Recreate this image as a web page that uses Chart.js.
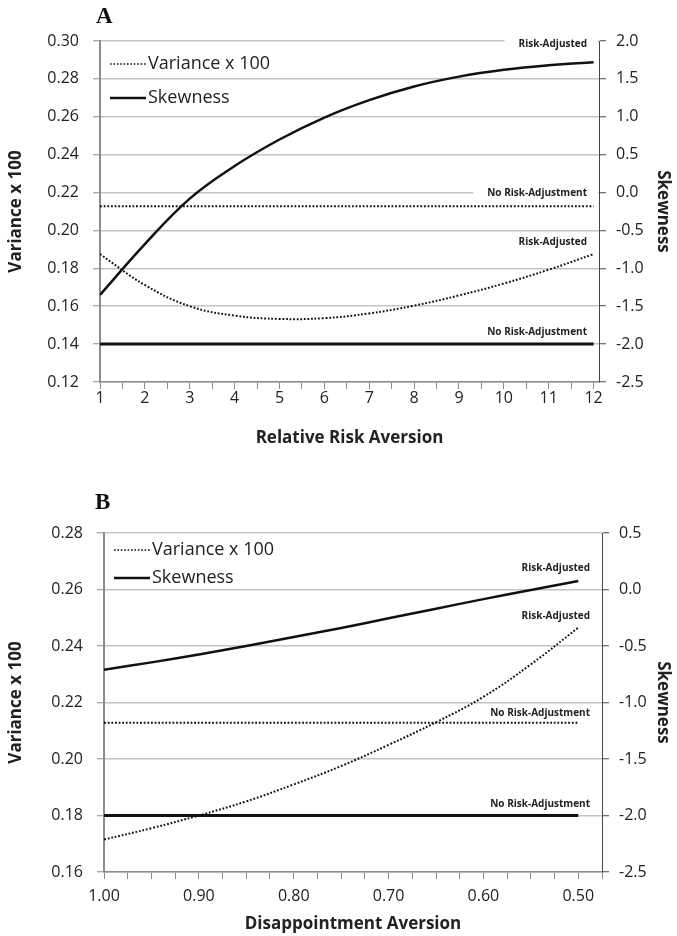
<!DOCTYPE html>
<html>
<head>
<meta charset="utf-8">
<script src="https://cdn.jsdelivr.net/npm/chart.js@4.4.0/dist/chart.umd.min.js"></script>
<style>
  html, body { margin: 0; padding: 0; background: #fff; }
  body { width: 677px; height: 936px; position: relative; overflow: hidden; }
  .panel { position: absolute; left: 0; width: 677px; }
  #boxA { top: 0; height: 460px; }
  #boxB { top: 460px; height: 476px; }
  .tag { position: absolute; font: bold 23px 'Liberation Serif', 'DejaVu Serif', serif; color: #111; }
</style>
</head>
<body>
<div class="panel" id="boxA"><canvas id="chartA"></canvas></div>
<div class="panel" id="boxB"><canvas id="chartB"></canvas></div>
<div class="tag" style="left:96px; top:3px;">A</div>
<div class="tag" style="left:95px; top:489px;">B</div>
<script>
// panel A - relative risk aversion
const rra = [1, 2, 3, 4, 5, 6, 7, 8, 9, 10, 11, 12];
const varianceA = [0.1875, 0.1712, 0.1600, 0.1550, 0.1533, 0.1537, 0.1562, 0.1603, 0.1657, 0.1720, 0.1793, 0.1875];
const skewnessA = [-1.35, -0.68, -0.08, 0.35, 0.70, 0.99, 1.22, 1.40, 1.53, 1.62, 1.68, 1.72];
const noAdjVarianceA = [0.2128, 0.2128];
const noAdjSkewnessA = [-2.0, -2.0];
const varTicksA = [0.12, 0.14, 0.16, 0.18, 0.20, 0.22, 0.24, 0.26, 0.28, 0.30];
const skewTicksA = [-2.5, -2.0, -1.5, -1.0, -0.5, 0.0, 0.5, 1.0, 1.5, 2.0];

// panel B - disappointment aversion
const da = [1.00, 0.95, 0.90, 0.85, 0.80, 0.75, 0.70, 0.65, 0.60, 0.55, 0.50];
const varianceB = [0.1715, 0.1755, 0.1800, 0.1850, 0.1910, 0.1975, 0.2050, 0.2130, 0.2220, 0.2335, 0.2465];
const skewnessB = [-0.71, -0.645, -0.575, -0.50, -0.42, -0.34, -0.255, -0.17, -0.085, -0.005, 0.075];
const noAdjVarianceB = [0.2128, 0.2128];
const noAdjSkewnessB = [-2.0, -2.0];
const varTicksB = [0.16, 0.18, 0.20, 0.22, 0.24, 0.26, 0.28];
const skewTicksB = [-2.5, -2.0, -1.5, -1.0, -0.5, 0.0, 0.5];
const daTicks = [1.00, 0.90, 0.80, 0.70, 0.60, 0.50];

const seriesNames = ['Variance x 100', 'Skewness'];
const noteText = ['Risk-Adjusted', 'No Risk-Adjustment'];

Chart.defaults.font.family = "'Open Sans', sans-serif";
Chart.defaults.color = '#222';

const GRID = '#c4c4c4';
const AXIS = '#8c8c8c';

function pts(xs, ys) {
  return ys.map((y, i) => ({ x: xs[i], y: y }));
}

// legend drawn inside the plot, top left
const legendBox = {
  id: 'legendBox',
  afterDatasetsDraw(chart, args, opts) {
    const ctx = chart.ctx, a = chart.chartArea;
    ctx.save();
    ctx.font = "18px 'Open Sans', sans-serif";
    ctx.textBaseline = 'middle';
    ctx.fillStyle = '#222';
    opts.rows.forEach((r, i) => {
      const y = a.top + opts.first + i * opts.gap;
      ctx.strokeStyle = '#111';
      ctx.lineWidth = r.dotted ? 1.6 : 2.5;
      ctx.setLineDash(r.dotted ? [1.6, 1.8] : []);
      ctx.beginPath();
      ctx.moveTo(a.left + 10, y);
      ctx.lineTo(a.left + 46, y);
      ctx.stroke();
      ctx.fillText(r.text, a.left + 48, y);
    });
    ctx.restore();
  }
};

// small labels at the right end of each line
const endNotes = {
  id: 'endNotes',
  beforeDatasetsDraw(chart, args, opts) {
    const ctx = chart.ctx, a = chart.chartArea;
    ctx.save();
    ctx.font = "bold 10px 'Open Sans', sans-serif";
    ctx.textAlign = 'right';
    ctx.textBaseline = 'middle';
    opts.items.forEach(n => {
      const ds = chart.data.datasets[n.dataset];
      const last = ds.data[ds.data.length - 1];
      const y = chart.scales[ds.yAxisID].getPixelForValue(last.y) - n.lift;
      const xr = a.right - 12;
      const w = ctx.measureText(n.text).width;
      ctx.fillStyle = '#fff';
      ctx.fillRect(xr - w - 14, y - 6, w + 25, 12);
      ctx.fillStyle = '#222';
      ctx.fillText(n.text, xr, y);
    });
    ctx.restore();
  }
};

function yAxis(pos, ticks, digits, title, width, pad, titlePad, showGrid) {
  return {
    type: 'linear',
    position: pos,
    min: ticks[0],
    max: ticks[ticks.length - 1],
    afterBuildTicks: s => { s.ticks = ticks.map(v => ({ value: v })); },
    afterFit: s => { s.width = width; },
    ticks: {
      font: { size: 16 },
      padding: pad,
      callback: v => Number(v).toFixed(digits)
    },
    grid: {
      drawOnChartArea: showGrid,
      color: GRID,
      lineWidth: 1.5,
      tickLength: 7,
      tickColor: pos === 'left' ? AXIS : '#444',
      tickWidth: 1
    },
    border: { display: true, color: pos === 'left' ? AXIS : '#444', width: pos === 'left' ? 2 : 1 },
    title: {
      display: true,
      text: title,
      font: { size: 17, weight: 'bold' },
      padding: { top: titlePad, bottom: 0 }
    }
  };
}

function xAxis(min, max, reverse, allTicks, labelled, digits, title, height, pad, titleBottom) {
  return {
    type: 'linear',
    position: 'bottom',
    min: min,
    max: max,
    reverse: reverse,
    afterBuildTicks: s => { s.ticks = allTicks.map(v => ({ value: v })); },
    afterFit: s => { s.height = height; },
    ticks: {
      autoSkip: false,
      maxRotation: 0,
      font: { size: 16 },
      padding: pad,
      callback: v => labelled.some(t => Math.abs(t - v) < 1e-6) ? Number(v).toFixed(digits) : ''
    },
    grid: {
      drawOnChartArea: false,
      color: AXIS,
      tickLength: 7,
      tickColor: AXIS,
      tickWidth: 1
    },
    border: { display: true, color: AXIS, width: 1.5 },
    title: {
      display: true,
      text: title,
      font: { size: 17, weight: 'bold' },
      padding: { top: 0, bottom: titleBottom }
    }
  };
}

function lineSet(label, data, axis, dotted, width) {
  return {
    label: label,
    data: data,
    yAxisID: axis,
    borderColor: '#111',
    borderWidth: width,
    borderDash: dotted ? [1.8, 1.8] : [],
    pointRadius: 0,
    tension: 0.4,
    fill: false
  };
}

// minor ticks every half unit on panel A, every 0.025 on panel B
const rraMarks = [];
for (let i = 0; i < rra.length - 1; i++) rraMarks.push(rra[i], (rra[i] + rra[i + 1]) / 2);
rraMarks.push(rra[rra.length - 1]);
const daMarks = [];
for (let i = 0; i < daTicks.length - 1; i++) {
  const step = (daTicks[i] - daTicks[i + 1]) / 4;
  for (let k = 0; k < 4; k++) daMarks.push(daTicks[i] - k * step);
}
daMarks.push(daTicks[daTicks.length - 1], daTicks[daTicks.length - 1] - 0.025);

function build(id, cfg) {
  return new Chart(document.getElementById(id), {
    type: 'line',
    data: { datasets: cfg.datasets },
    options: {
      responsive: true,
      maintainAspectRatio: false,
      animation: false,
      layout: { padding: { top: cfg.top, left: 0, right: 0, bottom: 0 } },
      scales: {
        x: cfg.x,
        yL: cfg.yL,
        yR: cfg.yR
      },
      plugins: {
        legend: { display: false },
        tooltip: { enabled: false },
        legendBox: { rows: [{ text: seriesNames[0], dotted: true }, { text: seriesNames[1], dotted: false }], first: cfg.legendFirst, gap: cfg.legendGap },
        endNotes: { items: cfg.notes }
      }
    },
    plugins: [legendBox, endNotes]
  });
}

build('chartA', {
  top: 41,
  legendFirst: 23,
  legendGap: 34,
  datasets: [
    lineSet('Variance x 100 (risk-adjusted)', pts(rra, varianceA), 'yL', true, 2),
    lineSet('Variance x 100 (no risk-adjustment)', pts([rra[0], rra[rra.length - 1]], noAdjVarianceA), 'yL', true, 2),
    lineSet('Skewness (risk-adjusted)', pts(rra, skewnessA), 'yR', false, 2.5),
    lineSet('Skewness (no risk-adjustment)', pts([rra[0], rra[rra.length - 1]], noAdjSkewnessA), 'yR', false, 3)
  ],
  x: xAxis(1, 12.12, false, rraMarks, rra, 0, 'Relative Risk Aversion', 78, 0, 12),
  yL: yAxis('left', varTicksA, 2, 'Variance x 100', 100, 14, 6, true),
  yR: yAxis('right', skewTicksA, 1, 'Skewness', 78, 10, 4, false),
  notes: [
    { text: noteText[0], dataset: 2, lift: 18 },
    { text: noteText[1], dataset: 1, lift: 13 },
    { text: noteText[0], dataset: 0, lift: 12 },
    { text: noteText[1], dataset: 3, lift: 12 }
  ]
});

build('chartB', {
  top: 73,
  legendFirst: 17,
  legendGap: 28,
  datasets: [
    lineSet('Variance x 100 (risk-adjusted)', pts(da, varianceB), 'yL', true, 2),
    lineSet('Variance x 100 (no risk-adjustment)', pts([da[0], da[da.length - 1]], noAdjVarianceB), 'yL', true, 2),
    lineSet('Skewness (risk-adjusted)', pts(da, skewnessB), 'yR', false, 2.5),
    lineSet('Skewness (no risk-adjustment)', pts([da[0], da[da.length - 1]], noAdjSkewnessB), 'yR', false, 3)
  ],
  x: xAxis(0.475, 1.0, true, daMarks, daTicks, 2, 'Disappointment Aversion', 64, 8, 2),
  yL: yAxis('left', varTicksB, 2, 'Variance x 100', 104, 14, 6, true),
  yR: yAxis('right', skewTicksB, 1, 'Skewness', 75, 10, 4, false),
  notes: [
    { text: noteText[0], dataset: 2, lift: 13 },
    { text: noteText[0], dataset: 0, lift: 11 },
    { text: noteText[1], dataset: 1, lift: 10 },
    { text: noteText[1], dataset: 3, lift: 11 }
  ]
});
</script>
</body>
</html>
